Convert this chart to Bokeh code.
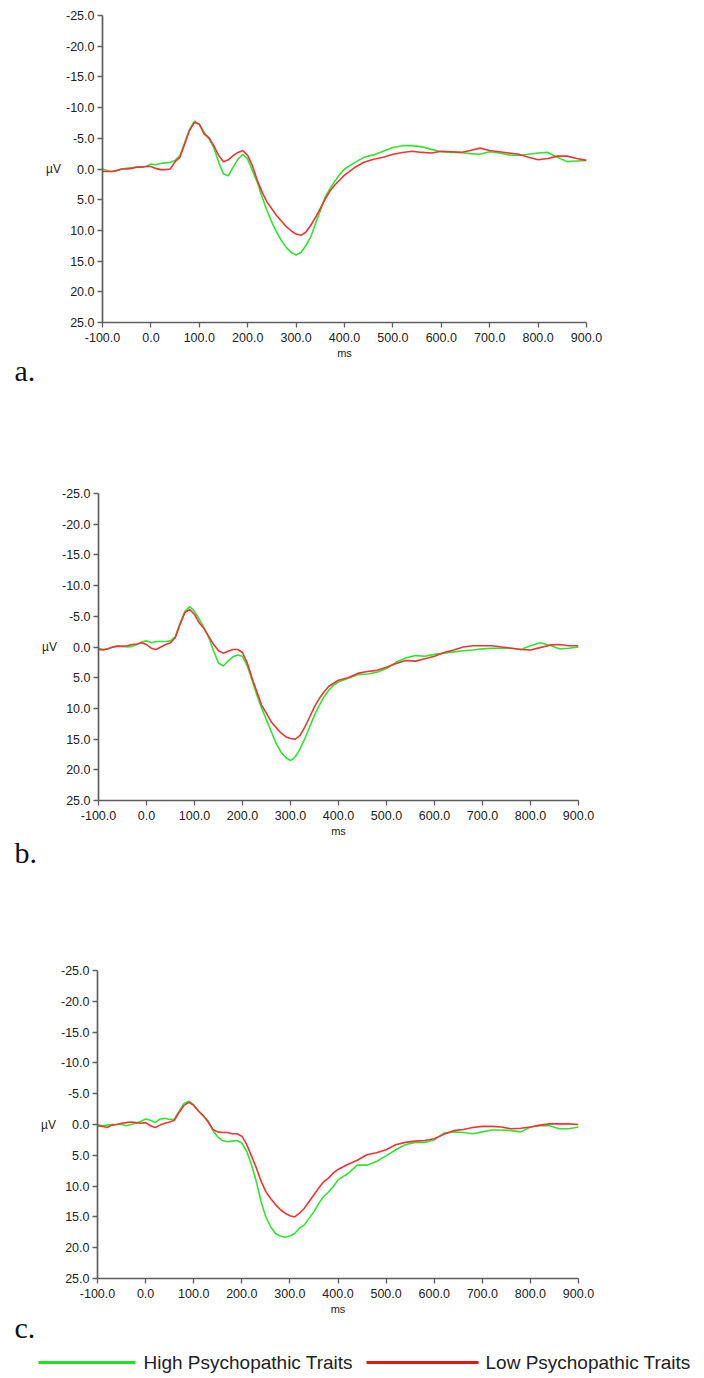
from bokeh.plotting import figure
from bokeh.layouts import column
from bokeh.models import Range1d, FixedTicker, PrintfTickFormatter, Title, ColumnDataSource
from bokeh.core.properties import value
from bokeh.embed import file_html
from bokeh.resources import INLINE

times = [-100, -90, -80, -70, -60, -50, -40, -30, -20, -10,
         0, 10, 20, 30, 40, 50, 60, 70, 80, 90,
         100, 110, 120, 130, 140, 150, 160, 170, 180, 190,
         200, 210, 220, 230, 240, 250, 260, 270, 280, 290,
         300, 310, 320, 330, 340, 350, 360, 370, 380, 390,
         400,
         420, 440, 460, 480, 500, 520, 540, 560, 580, 600, 620, 640, 660, 680,
         700, 720, 740, 760, 780, 800, 820, 840, 860, 880, 900]

a_high = [0.0, 0.3, 0.4, 0.3, 0.0, -0.1, -0.2, -0.3, -0.3, -0.4,
          -0.8, -0.7, -0.9, -1.0, -1.1, -1.4, -2.2, -4.3, -6.5, -7.8,
          -7.3, -6.0, -4.9, -3.5, -1.1, 0.8, 1.1, -0.3, -1.6, -2.4,
          -1.6, 0.3, 2.2, 4.6, 6.8, 8.7, 10.3, 11.7, 12.8, 13.6,
          14.0, 13.6, 12.5, 11.1, 8.9, 6.8, 4.6, 3.2, 2.0, 0.9,
          0.0,
          -1.0, -1.9, -2.3, -2.9, -3.5, -3.8, -3.8, -3.6, -3.2, -2.8, -2.7, -2.7, -2.5, -2.4,
          -2.8, -2.6, -2.3, -2.2, -2.4, -2.6, -2.7, -1.9, -1.2, -1.3, -1.4]
a_low = [0.4, 0.4, 0.4, 0.2, 0.0, 0.0, -0.1, -0.3, -0.3, -0.4,
         -0.4, -0.1, 0.1, 0.1, 0.0, -1.2, -1.9, -4.1, -6.3, -7.6,
         -7.3, -5.7, -5.1, -3.8, -2.2, -1.2, -1.5, -2.2, -2.7, -3.0,
         -2.2, -0.5, 1.9, 3.8, 5.4, 6.5, 7.6, 8.5, 9.4, 10.1,
         10.6, 10.8, 10.3, 9.2, 7.9, 6.4, 4.9, 3.6, 2.6, 1.8,
         1.0,
         -0.2, -1.1, -1.6, -1.9, -2.4, -2.7, -2.9, -2.7, -2.6, -2.9, -2.8, -2.7, -3.0, -3.4,
         -3.0, -2.8, -2.6, -2.4, -1.9, -1.5, -1.7, -2.1, -2.1, -1.7, -1.4]

b_high = [0.2, 0.4, 0.3, 0.0, -0.2, -0.1, 0.0, -0.1, -0.4, -0.8,
          -1.0, -0.7, -0.9, -0.9, -0.9, -1.0, -1.7, -3.9, -5.8, -6.6,
          -5.8, -4.5, -3.1, -1.5, 0.7, 2.6, 3.1, 2.3, 1.6, 1.3,
          1.5, 3.1, 5.4, 7.8, 10.0, 11.9, 13.8, 15.7, 17.1, 18.0,
          18.5, 17.9, 16.6, 14.9, 13.0, 11.1, 9.5, 8.1, 7.0, 6.2,
          5.7,
          5.1, 4.5, 4.4, 4.1, 3.5, 2.5, 1.8, 1.4, 1.5, 1.2, 1.0, 0.8, 0.6, 0.5,
          0.3, 0.2, 0.2, 0.2, 0.4, -0.2, -0.7, -0.3, 0.3, 0.2, 0.0]
b_low = [0.4, 0.5, 0.3, 0.0, -0.1, -0.1, -0.2, -0.4, -0.5, -0.7,
         -0.4, 0.2, 0.4, 0.0, -0.4, -0.7, -1.5, -3.7, -5.6, -6.1,
         -5.3, -3.9, -3.0, -1.7, -0.4, 0.6, 1.0, 0.7, 0.4, 0.4,
         0.9, 2.6, 5.1, 7.3, 9.5, 10.8, 12.2, 13.1, 14.0, 14.6,
         14.9, 15.0, 14.4, 13.0, 11.4, 9.7, 8.4, 7.3, 6.4, 5.9,
         5.4,
         5.0, 4.3, 4.0, 3.8, 3.3, 2.7, 2.2, 2.3, 1.9, 1.5, 0.9, 0.5, 0.0, -0.2,
         -0.2, -0.2, 0.0, 0.2, 0.4, 0.5, 0.1, -0.3, -0.4, -0.2, -0.2]

c_high = [0.0, 0.2, 0.1, 0.0, 0.0, 0.0, 0.2, 0.0, -0.2, -0.5,
          -0.9, -0.7, -0.3, -0.9, -1.0, -0.8, -0.9, -2.2, -3.4, -3.8,
          -3.2, -2.2, -1.4, -0.6, 1.0, 2.0, 2.6, 2.8, 2.7, 2.6,
          3.0, 4.3, 6.5, 9.2, 12.5, 15.0, 16.6, 17.7, 18.1, 18.3,
          18.1, 17.7, 16.8, 16.3, 15.2, 14.2, 12.8, 11.7, 11.0, 10.1,
          9.0,
          8.0, 6.6, 6.6, 6.0, 5.1, 4.1, 3.3, 2.9, 2.9, 2.5, 1.4, 1.2, 1.3, 1.5,
          1.2, 0.9, 0.9, 1.0, 1.2, 0.4, 0.2, 0.2, 0.7, 0.7, 0.4]
c_low = [0.2, 0.3, 0.5, 0.1, 0.0, -0.2, -0.3, -0.4, -0.3, -0.2,
         -0.3, 0.2, 0.5, 0.1, -0.2, -0.4, -0.7, -2.0, -3.1, -3.6,
         -3.1, -2.2, -1.4, -0.4, 0.8, 1.2, 1.3, 1.3, 1.5, 1.5,
         1.9, 3.2, 5.1, 7.0, 9.2, 10.9, 12.0, 13.0, 13.8, 14.4,
         14.8, 15.0, 14.4, 13.6, 12.5, 11.4, 10.3, 9.3, 8.7, 7.9,
         7.3,
         6.5, 5.8, 4.9, 4.6, 4.1, 3.3, 2.9, 2.7, 2.6, 2.3, 1.6, 1.0, 0.8, 0.5,
         0.3, 0.3, 0.4, 0.7, 0.6, 0.4, 0.1, -0.1, -0.1, -0.1, 0.0]

panel_labels = ["a.", "b.", "c."]
y_ticks = [-25, -20, -15, -10, -5, 0, 5, 10, 15, 20, 25]
x_ticks = [-100, 0, 100, 200, 300, 400, 500, 600, 700, 800, 900]
series_names = ["High Psychopathic Traits", "Low Psychopathic Traits"]

GREEN = "#2fe62f"
RED = "#f23333"
TXT = "#222222"
AX = "#5f5f5f"
FONT = "Liberation Sans"
W = 704


def make_panel(high, low, label, height, left, frame_w, frame_h, lab_standoff):
    bottom = height - 15 - frame_h
    p = figure(width=W, height=height, output_backend="svg", toolbar_location=None,
               x_range=Range1d(-100, 900), y_range=Range1d(25, -25),
               min_border_left=left, min_border_right=W - left - frame_w,
               min_border_top=15, min_border_bottom=bottom, frame_align=False)
    p.outline_line_color = None
    p.grid.visible = False
    src = ColumnDataSource(dict(t=times, high=high, low=low))
    p.line("t", "high", source=src, color=GREEN, line_width=1.6)
    p.line("t", "low", source=src, color=RED, line_width=1.6)

    for ax in (p.xaxis[0], p.yaxis[0]):
        ax.axis_line_color = AX
        ax.axis_line_width = 1.7
        ax.major_tick_line_color = AX
        ax.major_tick_line_width = 1.3
        ax.minor_tick_line_color = None
        ax.major_label_text_font = FONT
        ax.major_label_text_font_size = "12.5px"
        ax.major_label_text_color = TXT
        ax.axis_label_text_font = FONT
        ax.axis_label_text_font_style = "normal"
        ax.axis_label_text_color = TXT
        ax.major_tick_in = 0
        ax.major_tick_out = 5
        ax.major_label_standoff = 3
    p.xaxis[0].major_label_standoff = 5
    p.yaxis[0].ticker = FixedTicker(ticks=y_ticks)
    p.xaxis[0].ticker = FixedTicker(ticks=x_ticks)
    p.yaxis[0].formatter = PrintfTickFormatter(format="%.1f")
    p.xaxis[0].formatter = PrintfTickFormatter(format="%.1f")
    p.yaxis[0].axis_label = "µV"
    p.yaxis[0].axis_label_orientation = "horizontal"
    p.yaxis[0].axis_label_text_font_size = "12px"
    p.yaxis[0].axis_label_standoff = 2
    p.xaxis[0].axis_label = "ms"
    p.xaxis[0].axis_label_text_font_size = "11px"
    p.xaxis[0].axis_label_standoff = 2

    t = Title(text=label, align="left", offset=14 - left, standoff=lab_standoff,
              text_font="Liberation Serif", text_font_size="30px",
              text_font_style="normal", text_color="#111111")
    p.add_layout(t, "below")
    return p


pa = make_panel(a_high, a_low, panel_labels[0], 478, 102, 484, 307, -19)
pb = make_panel(b_high, b_low, panel_labels[1], 477, 98, 480, 307, -11)
pc = make_panel(c_high, c_low, panel_labels[2], 391, 97, 481, 308, -18)

# legend strip (pixel-unit ranges used only to place the key)
pl = figure(width=W, height=32, output_backend="svg", toolbar_location=None,
            x_range=Range1d(0, W), y_range=Range1d(0, 32), frame_align=False,
            min_border_left=0, min_border_right=0, min_border_top=0, min_border_bottom=0)
pl.outline_line_color = None
pl.axis.visible = False
pl.grid.visible = False
key_x0 = [38, 366]
key_x1 = [135, 478]
key_y = [16, 16]
key_colors = ["#1ee61e", "#ee1111"]
text_x = [143, 485]
pl.segment(x0=key_x0, x1=key_x1, y0=key_y, y1=key_y, color=key_colors, line_width=3)
pl.text(x=text_x, y=key_y, text=series_names, text_font=value(FONT),
        text_font_size="19px", text_color=TXT, text_baseline="middle", text_align="left")

layout = column(pa, pb, pc, pl, spacing=0)
open("out.html", "w").write(file_html(layout, INLINE))
